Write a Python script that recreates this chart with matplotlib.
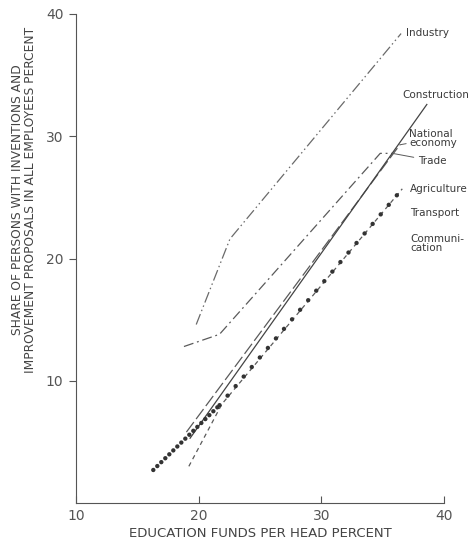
import matplotlib
matplotlib.use("Agg")
import matplotlib.pyplot as plt

# ---- data ----
industry_x = [19.8, 22.55, 36.5]
industry_y = [14.6, 21.6, 38.4]

trade_x = [18.8, 21.7, 34.8, 35.8]
trade_y = [12.8, 13.8, 28.6, 28.6]

national_x = [19.0, 36.4]
national_y = [5.8, 29.3]

construction_x = [19.3, 38.6]
construction_y = [5.3, 32.6]

transport_x = [19.2, 21.9, 36.6]
transport_y = [3.0, 8.1, 25.7]

agri_low_x = [16.3, 21.7]
agri_low_y = [2.7, 8.0]
agri_x = [21.7, 36.6]
agri_y = [8.0, 25.7]

x_ticks = [10, 20, 30, 40]
y_ticks = [10, 20, 30, 40]

plt.rcParams['font.family'] = ['DejaVu Sans']
fig = plt.figure(figsize=(4.75, 5.51), dpi=100)
ax = fig.add_axes([76/475, 1-503/551, (444-76)/475, (503-14)/551])

c_line = '#5a5a5a'
c_text = '#3a3a3a'

ax.plot(industry_x, industry_y, color='#6a6a6a', lw=0.9,
        linestyle=(0, (9, 2.5, 1.2, 2.5, 1.2, 2.5)))
ax.plot(trade_x, trade_y, color=c_line, lw=0.9, linestyle=(0, (8, 3, 1.5, 3)))
ax.plot(national_x, national_y, color=c_line, lw=0.9, linestyle=(0, (10, 3)))
ax.plot(construction_x, construction_y, color='#444444', lw=0.9)
ax.plot(transport_x, transport_y, color=c_line, lw=0.9, linestyle=(0, (3.5, 3)))
ax.plot(agri_low_x, agri_low_y, color='#333333', lw=3.2,
        linestyle=(0, (0.01, 1.25)), dash_capstyle='round')
ax.plot(agri_x, agri_y, color='#333333', lw=3.2,
        linestyle=(0, (0.01, 2.8)), dash_capstyle='round')

ax.set_xlim(10, 40)
ax.set_ylim(0, 40)
ax.set_xticks(x_ticks)
ax.set_yticks(y_ticks)
ax.tick_params(axis='x', direction='in', length=5, width=0.8, colors='#555555',
               labelsize=10, pad=4)
ax.tick_params(axis='y', direction='out', length=5, width=0.8, colors='#555555',
               labelsize=10, pad=4)
for lab in ax.get_xticklabels() + ax.get_yticklabels():
    lab.set_color('#555555')
for s in ['top', 'right']:
    ax.spines[s].set_visible(False)
for s in ['left', 'bottom']:
    ax.spines[s].set_color('#555555')
    ax.spines[s].set_linewidth(0.8)

fs = 7.5
kw = dict(fontsize=fs, color=c_text, va='center', ha='left', clip_on=False)
ax.text(36.9, 38.45, 'Industry', **kw)
ax.text(36.57, 33.4, 'Construction', **kw)
ax.annotate('National\neconomy', xy=(national_x[-1], national_y[-1]),
            xytext=(37.14, 29.8), textcoords='data', fontsize=fs, color=c_text,
            va='center', ha='left', linespacing=0.9, annotation_clip=False,
            arrowprops=dict(arrowstyle='-', color=c_line, lw=0.7,
                            shrinkA=0, shrinkB=0))
ax.annotate('Trade', xy=(trade_x[-1], trade_y[-1]), xytext=(37.87, 28.0),
            textcoords='data', fontsize=fs, color=c_text, va='center', ha='left',
            annotation_clip=False,
            arrowprops=dict(arrowstyle='-', color=c_line, lw=0.7,
                            shrinkA=1, shrinkB=0))
ax.text(37.22, 25.7, 'Agriculture', **kw)
ax.text(37.22, 23.7, 'Transport', **kw)
ax.text(37.22, 21.2, 'Communi-\ncation', linespacing=0.9, **kw)

ax.set_xlabel('EDUCATION FUNDS PER HEAD PERCENT', fontsize=9.5, color='#444444',
              labelpad=3)
fig.text(24/475, 1-200/551,
         'SHARE OF PERSONS WITH INVENTIONS AND\nIMPROVEMENT PROPOSALS IN ALL EMPLOYEES PERCENT',
         rotation=90, ha='center', va='center', fontsize=8.8, color='#444444',
         linespacing=1.0)

fig.savefig('out.png', dpi=100)
